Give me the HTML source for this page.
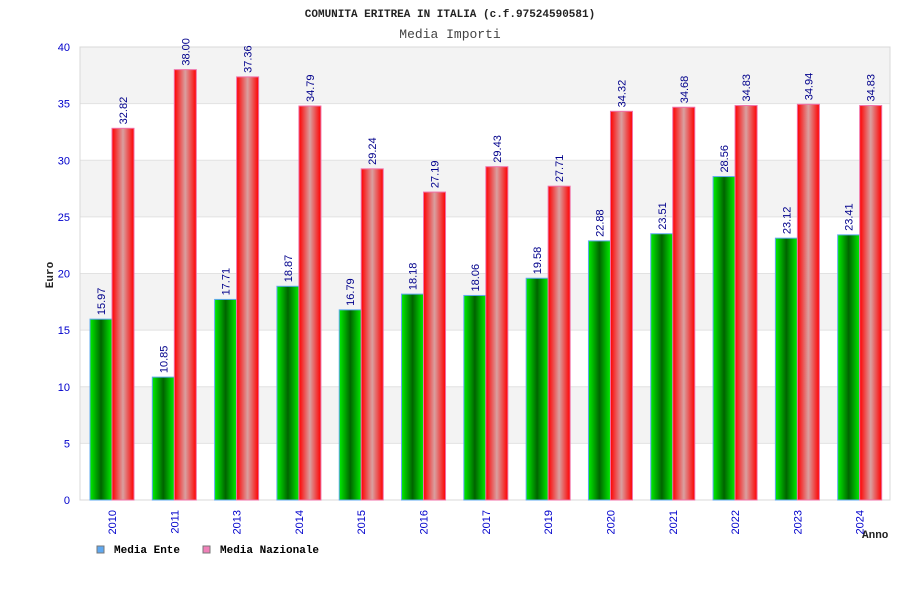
<!DOCTYPE html>
<html><head><meta charset="utf-8"><style>
body{margin:0;background:#fff;}
svg{display:block;font-family:"Liberation Sans",sans-serif;}
</style></head><body>
<svg id="c" width="900" height="600">
<defs>
<linearGradient id="gG" x1="0" x2="1" y1="0" y2="0"><stop offset="0" stop-color="#00ee00"/><stop offset="0.5" stop-color="#006400"/><stop offset="1" stop-color="#00ee00"/></linearGradient>
<linearGradient id="gR" x1="0" x2="1" y1="0" y2="0"><stop offset="0" stop-color="#ff0000"/><stop offset="0.5" stop-color="#d9a0a0"/><stop offset="1" stop-color="#ff0000"/></linearGradient>
</defs>
<text x="450" y="17" text-anchor="middle" font-family="Liberation Mono,monospace" font-size="11" font-weight="bold" fill="#222">COMUNITA ERITREA IN ITALIA (c.f.97524590581)</text>
<text x="450" y="38" text-anchor="middle" font-family="Liberation Mono,monospace" font-size="13" fill="#444">Media Importi</text>
<g id="plot"></g>
<text transform="translate(53,275) rotate(-90)" text-anchor="middle" font-family="Liberation Mono,monospace" font-size="11" font-weight="bold" fill="#222">Euro</text>
<text x="862" y="538" font-family="Liberation Mono,monospace" font-size="11" font-weight="bold" fill="#222">Anno</text>
<g font-family="Liberation Mono,monospace" font-size="11" font-weight="bold" fill="#000">
<rect x="97" y="546" width="7" height="7" fill="#5fa8f0" stroke="#777"/>
<text x="114" y="553">Media Ente</text>
<rect x="203" y="546" width="7" height="7" fill="#f080b8" stroke="#777"/>
<text x="220" y="553">Media Nazionale</text>
</g>
</svg>
<script>
const categories=["2010","2011","2013","2014","2015","2016","2017","2019","2020","2021","2022","2023","2024"];
const enteValues=[15.97,10.85,17.71,18.87,16.79,18.18,18.06,19.58,22.88,23.51,28.56,23.12,23.41];
const nazValues=[32.82,38.00,37.36,34.79,29.24,27.19,29.43,27.71,34.32,34.68,34.83,34.94,34.83];
const yTicks=[0,5,10,15,20,25,30,35,40];
const NS="http://www.w3.org/2000/svg";
const L=80,R=890,T=47,B=500,ymax=40;
const y=v=>B-(v/ymax)*(B-T);
const slot=(R-L)/categories.length;
const xs=i=>L+slot*i;
const g=document.getElementById('plot');
function mk(t,a){const e=document.createElementNS(NS,t);for(const k in a)e.setAttribute(k,a[k]);g.appendChild(e);return e;}
for(let i=0;i<yTicks.length-1;i++){
 const r=mk('rect',{x:L,y:y(yTicks[i+1]),width:R-L,height:y(yTicks[i])-y(yTicks[i+1]),fill:i%2?'#f3f3f3':'#ffffff'});
 
 
}
yTicks.forEach(v=>{
 const l=mk('line',{x1:L,x2:R,y1:y(v),y2:y(v),stroke:'#e2e2e2'});
 
 
 const t=mk('text',{x:L-10,y:y(v)+4,'text-anchor':'end','font-size':11,fill:'#0000cc'});
 t.textContent=v;
 
 
});
const fr=mk('rect',{x:L,y:T,width:R-L,height:B-T,fill:'none',stroke:'#d8d8d8'});


const bw=22;
categories.forEach((c,i)=>{
 const x0=xs(i)+10;
 [[enteValues[i],'url(#gG)','#5fa8f0','bar-ente-'+c,x0],[nazValues[i],'url(#gR)','#f070a8','bar-nazionale-'+c,x0+bw]].forEach(([v,f,s,n,x])=>{
  const b=mk('rect',{x:x,y:y(v),width:bw,height:B-y(v),fill:f,stroke:s,'stroke-width':1});
  
  
  const t=mk('text',{transform:`translate(${x+bw/2+4},${y(v)-4}) rotate(-90)`,'font-size':11,fill:'#00008b'});
  t.textContent=v.toFixed(2);
  
  
 });
 const t=mk('text',{transform:`translate(${x0+bw+4},${510}) rotate(-90)`,'text-anchor':'end','font-size':11,fill:'#0000cc'});
 t.textContent=c;
 
 
});
</script>
</body></html>
